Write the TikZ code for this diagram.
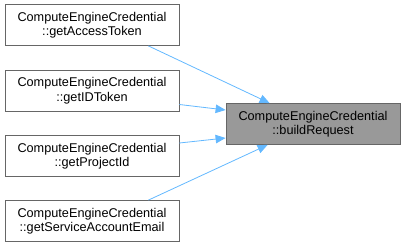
\documentclass[tikz,border=0pt]{standalone}
\usepackage{fontspec}
\setmainfont{Liberation Sans}
\usetikzlibrary{arrows.meta}
\definecolor{edgeblue}{HTML}{63B8FF}
\definecolor{boxline}{HTML}{666666}
\definecolor{hlfill}{HTML}{999999}
\tikzset{
  fn/.style={draw=boxline, fill=white, line width=0.8pt, minimum width=174pt,
    minimum height=41pt, align=center, inner sep=0pt,
    font=\fontsize{12.7}{14.5}\selectfont},
  hl/.style={fn, fill=hlfill},
  call/.style={draw=edgeblue, line width=0.8pt,
    -{Triangle[length=10pt,width=8.5pt]}}
}
\begin{document}
\begin{tikzpicture}[x=1pt,y=-1pt]
\useasboundingbox (0,0) rectangle (405,247);
% callers
\node[fn] (a) at (92,25) {ComputeEngineCredential\\::getAccessToken};
\node[fn] (b) at (92,90.5) {ComputeEngineCredential\\::getIDToken};
\node[fn] (c) at (92,156) {ComputeEngineCredential\\::getProjectId};
\node[fn] (d) at (92,221) {ComputeEngineCredential\\::getServiceAccountEmail};
% callee
\node[hl] (r) at (313,124) {ComputeEngineCredential\\::buildRequest};
% edge end points on the boxes
\coordinate (a1) at ([xshift=-31pt]a.south east);
\coordinate (b1) at ([yshift=-14pt]b.east);
\coordinate (c1) at ([yshift=13pt]c.east);
\coordinate (d1) at ([xshift=-31pt]d.north east);
\coordinate (ra) at ([xshift=44pt]r.north west);
\coordinate (rb) at ([yshift=14pt]r.west);
\coordinate (rc) at ([yshift=-14pt]r.west);
\coordinate (rd) at ([xshift=42pt]r.south west);
\draw[call] (a1) -- (ra);
\draw[call] (b1) -- (rb);
\draw[call] (c1) -- (rc);
\draw[call] (d1) -- (rd);
\end{tikzpicture}
\end{document}
